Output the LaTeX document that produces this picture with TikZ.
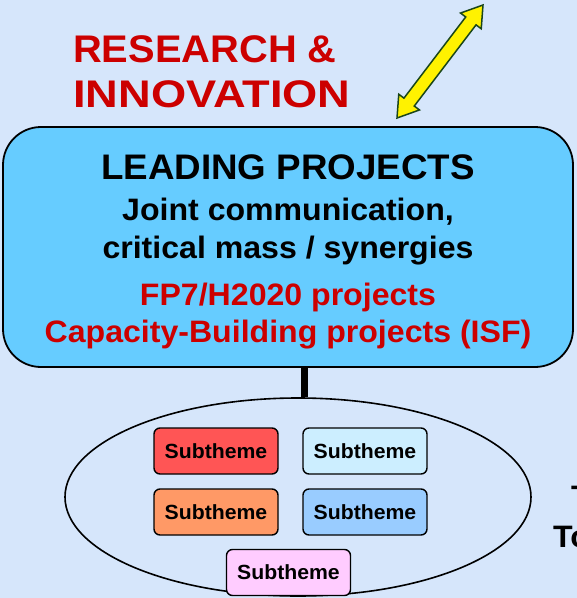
\documentclass[tikz,border=0pt]{standalone}
\usepackage{fontspec}
\setmainfont{Liberation Sans}[FakeStretch = 1.035]
\usetikzlibrary{calc,shapes.geometric}

\definecolor{bgblue}{HTML}{D6E6FB}
\definecolor{leadblue}{HTML}{66CCFF}
\definecolor{darkred}{HTML}{CC0000}
\definecolor{arrowrim}{HTML}{1A461A}

\begin{document}
\begin{tikzpicture}[x = 1pt, y = -1pt,
    every node/.style = {inner sep = 0pt, font = \bfseries},
    bigtext/.style = {anchor = base, font = \bfseries\fontsize{31}{36}\selectfont},
    redtext/.style = {bigtext, text = darkred},
    headtext/.style = {anchor = base west, text = darkred, font = \bfseries\fontsize{38.5}{44}\selectfont},
    subbox/.style = {draw, line width = 1.4pt, rounded corners = 6pt, minimum width = 124pt,
        minimum height = 46pt, font = \bfseries\fontsize{20.5}{24}\selectfont}]
    \fill[bgblue] (0,0) rectangle (577,598);
    \useasboundingbox (0,0) rectangle (577,598);

    % research and innovation
    \node[headtext] (research) at (73,62) {RESEARCH \&};
    \node[headtext] (innovation) at (73,107) {\scalebox{1.135}[1]{INNOVATION}};

    % yellow double arrow
    \coordinate (lo) at (397,118);
    \coordinate (hi) at (483,5);
    \filldraw[fill = yellow, draw = arrowrim, line width = 1.5pt, line join = miter]
        (lo) -- ($(lo)!20pt!(hi)!13pt!90:(hi)$) -- ($(lo)!20pt!(hi)!6.5pt!90:(hi)$)
        -- ($(hi)!20pt!(lo)!6.5pt!-90:(lo)$) -- ($(hi)!20pt!(lo)!13pt!-90:(lo)$) -- (hi)
        -- ($(hi)!20pt!(lo)!13pt!90:(lo)$) -- ($(hi)!20pt!(lo)!6.5pt!90:(lo)$)
        -- ($(lo)!20pt!(hi)!6.5pt!-90:(hi)$) -- ($(lo)!20pt!(hi)!13pt!-90:(hi)$) -- cycle;

    % leading projects
    \node[draw, fill = leadblue, line width = 1.8pt, rounded corners = 38pt,
        minimum width = 570pt, minimum height = 240pt] (lead) at (288,247) {};
    \node[bigtext, font = \bfseries\fontsize{35.5}{40}\selectfont] (title) at (288,179) {LEADING PROJECTS};
    \node[bigtext] (joint) at (288,220) {Joint communication,};
    \node[bigtext] (mass) at (288,258) {critical mass / synergies};
    \node[redtext] (fp) at (288,305) {FP7/H2020 projects};
    \node[redtext] (isf) at (288,342) {Capacity-Building projects (ISF)};

    % subthemes
    \node[draw, ellipse, line width = 1.6pt, minimum width = 466pt, minimum height = 198pt] (cluster) at (298,497) {};
    \draw[line width = 7pt] ([xshift = 16pt]lead.south) -- ([xshift = 16pt]lead.south |- cluster.north);
    \node[subbox, fill = {rgb,255:red,255;green,85;blue,85}] (sub1) at (216,451) {Subtheme};
    \node[subbox, fill = {rgb,255:red,204;green,238;blue,255}] (sub2) at (365,451) {Subtheme};
    \node[subbox, fill = {rgb,255:red,255;green,153;blue,102}] (sub3) at (216,512) {Subtheme};
    \node[subbox, fill = {rgb,255:red,153;green,204;blue,255}] (sub4) at (365,512) {Subtheme};
    \node[subbox, fill = {rgb,255:red,255;green,204;blue,255}] (sub5) at (288.5,572.5) {Subtheme};

    % cut text at the right edge
    \begin{scope}
        \clip (560,470) rectangle (577,494);
        \node[anchor = base west, font = \bfseries\fontsize{31}{36}\selectfont] (edge1) at (571,507) {T};
    \end{scope}
    \node[anchor = base west, font = \bfseries\fontsize{31}{36}\selectfont] (edge2) at (553,547) {To};
\end{tikzpicture}
\end{document}
